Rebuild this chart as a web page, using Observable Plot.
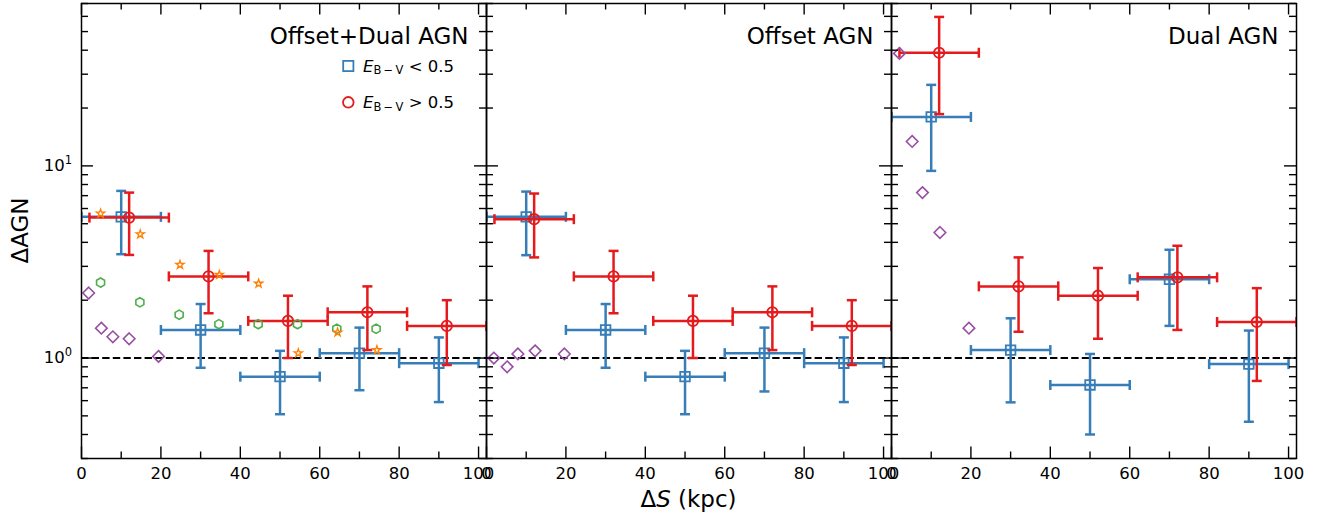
<!DOCTYPE html>
<html><head><meta charset="utf-8">
<script src="https://cdn.jsdelivr.net/npm/d3@7"></script>
<script src="https://cdn.jsdelivr.net/npm/@observablehq/plot@0.6"></script>
<style>
body{margin:0;background:#fff;}
#chart{position:relative;width:1322px;height:514px;font-family:"DejaVu Sans",sans-serif;}
</style>
</head><body><div id="chart"></div>
<script>
// ---------- data ----------
const panels = ["Offset+Dual AGN", "Offset AGN", "Dual AGN"];
const xErr = 10;
const blueX = [10, 30, 50, 70, 90];
const redX = [12, 32, 52, 72, 92];

// Offset+Dual AGN
const blueY1  = [5.43, 1.40, 0.80, 1.06, 0.94];
const blueLo1 = [3.47, 0.89, 0.51, 0.68, 0.59];
const blueHi1 = [7.41, 1.91, 1.09, 1.44, 1.28];
const redY1  = [5.38, 2.66, 1.56, 1.73, 1.47];
const redLo1 = [3.44, 1.71, 1.00, 1.10, 0.92];
const redHi1 = [7.26, 3.61, 2.11, 2.36, 2.00];
// Offset AGN
const blueY2  = [5.43, 1.40, 0.80, 1.06, 0.94];
const blueLo2 = [3.43, 0.89, 0.51, 0.67, 0.59];
const blueHi2 = [7.35, 1.91, 1.09, 1.44, 1.28];
const redY2  = [5.28, 2.66, 1.56, 1.73, 1.47];
const redLo2 = [3.34, 1.71, 1.00, 1.10, 0.92];
const redHi2 = [7.18, 3.61, 2.11, 2.36, 2.00];
// Dual AGN
const blueY3  = [17.98, 1.10, 0.724, 2.57, 0.93];
const blueLo3 = [9.42, 0.588, 0.40, 1.47, 0.466];
const blueHi3 = [26.4, 1.61, 1.05, 3.66, 1.39];
const redY3  = [38.8, 2.36, 2.11, 2.63, 1.54];
const redLo3 = [18.6, 1.37, 1.26, 1.40, 0.76];
const redHi3 = [59.6, 3.34, 2.94, 3.84, 2.31];

// comparison points (panel 1 stars / hexagons; diamonds in all panels)
const starX = [4.8, 14.8, 24.8, 34.7, 44.6, 54.6, 64.5, 74.4];
const starY = [5.65, 4.41, 3.06, 2.71, 2.44, 1.06, 1.36, 1.10];
const hexX = [4.8, 14.7, 24.6, 34.6, 44.5, 54.4, 64.3, 74.2];
const hexY = [2.47, 1.95, 1.68, 1.50, 1.50, 1.50, 1.42, 1.42];
const diamondX1 = [1.8, 5.0, 7.9, 12.0, 19.4];
const diamondY1 = [2.18, 1.43, 1.29, 1.26, 1.02];
const diamondX2 = [1.85, 5.2, 7.9, 12.25, 19.6];
const diamondY2 = [1.00, 0.90, 1.05, 1.09, 1.05];
const diamondX3 = [2.0, 5.2, 7.8, 12.2, 19.5];
const diamondY3 = [38.5, 13.4, 7.26, 4.50, 1.43];

// scales and ticks
const xDomain = [0, 102];
const yDomain = [0.3, 70];
const xMajorTicks = [0, 20, 40, 60, 80, 100];
const xMinorTicks = [10, 30, 50, 70, 90];
const yMajorTicks = [1, 10];
const yMinorTicks = [0.3, 0.4, 0.5, 0.6, 0.7, 0.8, 0.9, 2, 3, 4, 5, 6, 7, 8, 9, 20, 30, 40, 50, 60, 70];
const yTickBase = "10";
const yTickExponents = ["0", "1"];

// colours
const blue = "#377eb8", red = "#e41a1c", green = "#4daf4a", purple = "#984ea3", orange = "#ff7f00";

// layout
const W = 1322, H = 514, mL = 80, mR = 25, mT = 3, mB = 56;

// ---------- tables ----------
function bins(panel, xs, ys, lo, hi) {
  return xs.map((x, i) => ({panel, x, y: ys[i], lo: lo[i], hi: hi[i], x1: x - xErr, x2: x + xErr}));
}
function pts(panel, xs, ys) { return xs.map((x, i) => ({panel, x, y: ys[i]})); }

const blueRows = [
  ...bins(panels[0], blueX, blueY1, blueLo1, blueHi1),
  ...bins(panels[1], blueX, blueY2, blueLo2, blueHi2),
  ...bins(panels[2], blueX, blueY3, blueLo3, blueHi3)
];
const redRows = [
  ...bins(panels[0], redX, redY1, redLo1, redHi1),
  ...bins(panels[1], redX, redY2, redLo2, redHi2),
  ...bins(panels[2], redX, redY3, redLo3, redHi3)
];
const starRows = pts(panels[0], starX, starY);
const hexRows = pts(panels[0], hexX, hexY);
const diamondRows = [
  ...pts(panels[0], diamondX1, diamondY1),
  ...pts(panels[1], diamondX2, diamondY2),
  ...pts(panels[2], diamondX3, diamondY3)
];
const perPanel = (ticks) => panels.flatMap((panel) => ticks.map((v) => ({panel, v})));

// ---------- marks ----------
const capV = {draw(c, s) { const h = Math.sqrt(s / Math.PI); c.moveTo(0, -h); c.lineTo(0, h); }};
const capH = {draw(c, s) { const h = Math.sqrt(s / Math.PI); c.moveTo(-h, 0); c.lineTo(h, 0); }};

function errMarks(rows, color, symbol, r) {
  const lw = 2.5, cap = 5;
  return [
    Plot.ruleY(rows, {fx: "panel", y: "y", x1: "x1", x2: "x2", stroke: color, strokeWidth: lw, clip: true}),
    Plot.ruleX(rows, {fx: "panel", x: "x", y1: "lo", y2: "hi", stroke: color, strokeWidth: lw, clip: true}),
    Plot.dot(rows, {fx: "panel", x: "x", y: "lo", symbol: capH, r: cap, stroke: color, strokeWidth: lw, fill: "none", clip: true}),
    Plot.dot(rows, {fx: "panel", x: "x", y: "hi", symbol: capH, r: cap, stroke: color, strokeWidth: lw, fill: "none", clip: true}),
    Plot.dot(rows, {fx: "panel", x: "x1", y: "y", symbol: capV, r: cap, stroke: color, strokeWidth: lw, fill: "none", clip: true}),
    Plot.dot(rows, {fx: "panel", x: "x2", y: "y", symbol: capV, r: cap, stroke: color, strokeWidth: lw, fill: "none", clip: true}),
    Plot.dot(rows, {fx: "panel", x: "x", y: "y", symbol, r, stroke: color, strokeWidth: 1.8, fill: "none"})
  ];
}

// inward ticks on all four sides of every panel (tick length converted to data units)
const panelW = (W - mL - mR) / panels.length;
const unitX = (xDomain[1] - xDomain[0]) / panelW;                          // data units per px
const decPerPx = Math.log10(yDomain[1] / yDomain[0]) / (H - mT - mB);      // decades per px
const tkStyle = {fx: "panel", stroke: "black", strokeWidth: 1.4};
const inY = (ticks, len) => [
  Plot.ruleY(perPanel(ticks), {y: "v", x1: xDomain[0], x2: xDomain[0] + len * unitX, ...tkStyle}),
  Plot.ruleY(perPanel(ticks), {y: "v", x1: xDomain[1] - len * unitX, x2: xDomain[1], ...tkStyle})
];
const inX = (ticks, len) => [
  Plot.ruleX(perPanel(ticks), {x: "v", y1: yDomain[0], y2: yDomain[0] * 10 ** (len * decPerPx), ...tkStyle}),
  Plot.ruleX(perPanel(ticks), {x: "v", y1: yDomain[1] / 10 ** (len * decPerPx), y2: yDomain[1], ...tkStyle})
];

const chart = Plot.plot({
  width: W,
  height: H,
  marginLeft: mL,
  marginRight: mR,
  marginTop: mT,
  marginBottom: mB,
  style: {fontFamily: "DejaVu Sans", color: "black", background: "white"},
  fx: {domain: panels, padding: 0, axis: null},
  x: {domain: xDomain, axis: null},
  y: {type: "log", domain: yDomain, axis: null},
  marks: [
    Plot.ruleY([1], {stroke: "black", strokeWidth: 2, strokeDasharray: "7.4,3.2"}),
    ...errMarks(blueRows, blue, "square", 5.4),
    ...errMarks(redRows, red, "circle", 5.2),
    Plot.dot(hexRows, {fx: "panel", x: "x", y: "y", symbol: "hexagon", r: 4, stroke: green, strokeWidth: 1.6, fill: "none"}),
    Plot.dot(starRows, {fx: "panel", x: "x", y: "y", symbol: "star", r: 2.6, stroke: orange, strokeWidth: 1.3, fill: "none"}),
    Plot.dot(diamondRows, {fx: "panel", x: "x", y: "y", symbol: "diamond2", r: 5.2, stroke: purple, strokeWidth: 1.6, fill: "none"}),
    ...inY(yMinorTicks, 7),
    ...inY(yMajorTicks, 12),
    ...inX(xMinorTicks, 6.5),
    ...inX(xMajorTicks, 11.5),
    Plot.frame({stroke: "black", strokeWidth: 1.5}),
    // x tick labels
    Plot.axisX(xMajorTicks, {anchor: "bottom", tickSize: 0, tickPadding: 9, fontSize: 16.5, fill: "black", label: null}),
    // panel titles
    Plot.text(panels, {fx: (d) => d, text: (d) => d, frameAnchor: "top-right", dx: -18, dy: 24,
      lineAnchor: "top", fontSize: 23, fill: "black"})
  ]
});
document.getElementById("chart").appendChild(chart);

// ---------- y tick labels (10^k, positioned with the plot's own y scale), axis labels, legend ----------
const svg = d3.select(chart);
let yPos;
try {
  const ys = chart.scale("y");
  yPos = (v) => ys.apply(v);
  if (!isFinite(yPos(1))) throw new Error("bad scale");
} catch (e) {
  const fallback = d3.scaleLog(yDomain, [H - mB, mT]);
  yPos = (v) => fallback(v);
}
yMajorTicks.forEach((v, i) => {
  const t = svg.append("text")
    .attr("x", mL - 8).attr("y", yPos(v)).attr("dy", "0.36em")
    .attr("text-anchor", "end").attr("font-size", 16.5)
    .attr("font-family", "DejaVu Sans").attr("fill", "black");
  t.append("tspan").text(yTickBase);
  t.append("tspan").attr("font-size", 11.5).attr("dy", "-0.62em").text(yTickExponents[i]);
});

svg.append("text")
  .attr("transform", "translate(20,230.5) rotate(-90)")
  .attr("text-anchor", "middle").attr("dy", "0.36em")
  .attr("font-size", 23).attr("fill", "black").attr("font-family", "DejaVu Sans")
  .text("\u0394AGN");

const xl = svg.append("text")
  .attr("x", 688.5).attr("y", 507).attr("text-anchor", "middle")
  .attr("font-size", 23).attr("fill", "black").attr("font-family", "DejaVu Sans");
xl.append("tspan").text("\u0394");
xl.append("tspan").attr("font-style", "italic").text("S");
xl.append("tspan").text(" (kpc)");

const legendItems = [
  {color: blue, sym: "square", rel: "<", thr: "0.5"},
  {color: red, sym: "circle", rel: ">", thr: "0.5"}
];
const lg = svg.append("g").attr("font-family", "DejaVu Sans").attr("fill", "black").attr("text-anchor", "start");
legendItems.forEach((it, i) => {
  const cy = 66 + i * 36.3;
  if (it.sym === "square") {
    lg.append("rect").attr("x", 343.2).attr("y", cy - 5.1).attr("width", 10.2).attr("height", 10.2)
      .attr("fill", "none").attr("stroke", it.color).attr("stroke-width", 1.8);
  } else {
    lg.append("circle").attr("cx", 348.3).attr("cy", cy).attr("r", 5.3)
      .attr("fill", "none").attr("stroke", it.color).attr("stroke-width", 1.8);
  }
  const t = lg.append("text").attr("x", 363).attr("y", cy + 5.8).attr("font-size", 16.5).attr("text-anchor", "start");
  t.append("tspan").attr("font-style", "italic").text("E");
  t.append("tspan").attr("font-size", 11.5).attr("dy", 2.5).text("B\u2009\u2212\u2009V");
  t.append("tspan").attr("dy", -2.5).text(" " + it.rel + " " + it.thr);
});
</script>
</body></html>
